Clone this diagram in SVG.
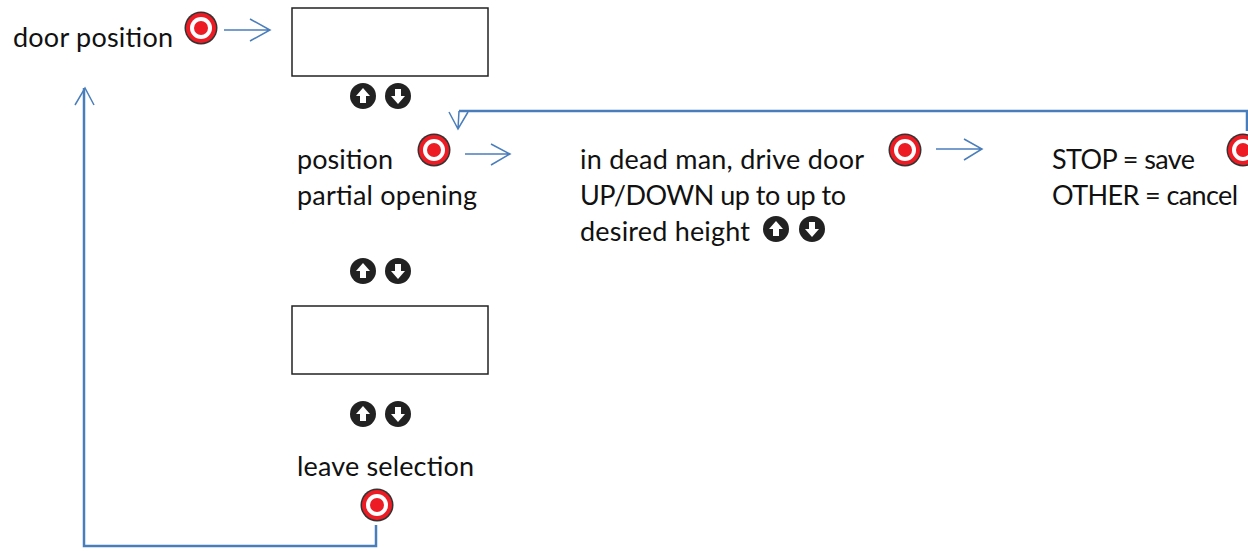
<svg xmlns="http://www.w3.org/2000/svg" xmlns:xlink="http://www.w3.org/1999/xlink" width="1248" height="551" viewBox="0 0 1248 551">
<style>
text{font-family:"Lato","Noto Sans",sans-serif;font-size:27px;fill:#111}
.box{fill:#fff;stroke:#222;stroke-width:1.5}
.c{fill:none;stroke:#4a7ebb;stroke-width:1.5}
.t{fill:none;stroke:#4a7ebb;stroke-width:2.5}
</style>
<defs>
<g id="btn"><circle r="16.5" fill="#333"/><circle r="15" fill="#ed1c24"/><circle r="11" fill="#fff"/><circle r="7" fill="#ed1c24"/></g>
<g id="up"><circle r="13" fill="#222"/><path d="M0-8L7 0H3V7H-3V0H-7Z" fill="#fff"/></g>
<g id="down"><circle r="13" fill="#222"/><path d="M0 8L7 0H3V-7H-3V0H-7Z" fill="#fff"/></g>
</defs>
<g id="connectors">
<path class="c" d="M224 30H270M250 19L270 30L250 41"/>
<path class="c" d="M465 154H510M491 144L510 154L491 165"/>
<path class="c" d="M936 149H982M964 139L982 149L964 160"/>
<path class="t" d="M1247 131V111H459"/>
<path class="c" d="M459 111L458 129M449 112L458 129L468 112"/>
<path class="t" d="M376 525V546H84V88"/>
<path class="c" d="M75 105L85 88L94 105"/>
</g>
<g id="door-position"><text x="13" y="47" textLength="160">door position</text><use xlink:href="#btn" x="201" y="28"/></g>
<g id="box-top"><rect class="box" x="292" y="8" width="196" height="68"/></g>
<g id="arrows-1"><use xlink:href="#up" x="363" y="96"/><use xlink:href="#down" x="398" y="96"/></g>
<g id="partial-opening"><text x="297" y="169" textLength="96">position</text><text x="297" y="205" textLength="180">partial opening</text><use xlink:href="#btn" x="434" y="150"/></g>
<g id="dead-man"><text x="580" y="169" textLength="284">in dead man, drive door</text><text x="580" y="205" textLength="266">UP/DOWN up to up to</text><text x="580" y="241" textLength="170">desired height</text><use xlink:href="#up" x="776" y="229"/><use xlink:href="#down" x="812" y="229"/><use xlink:href="#btn" x="905" y="150"/></g>
<g id="save-cancel"><text x="1052" y="169" textLength="143">STOP = save</text><text x="1052" y="205" textLength="186">OTHER = cancel</text><use xlink:href="#btn" x="1243" y="150"/></g>
<g id="arrows-2"><use xlink:href="#up" x="363" y="271"/><use xlink:href="#down" x="398" y="271"/></g>
<g id="box-bottom"><rect class="box" x="292" y="306" width="196" height="68"/></g>
<g id="arrows-3"><use xlink:href="#up" x="363" y="414"/><use xlink:href="#down" x="398" y="414"/></g>
<g id="leave-selection"><text x="297" y="476" textLength="177">leave selection</text><use xlink:href="#btn" x="377" y="505"/></g>
</svg>
